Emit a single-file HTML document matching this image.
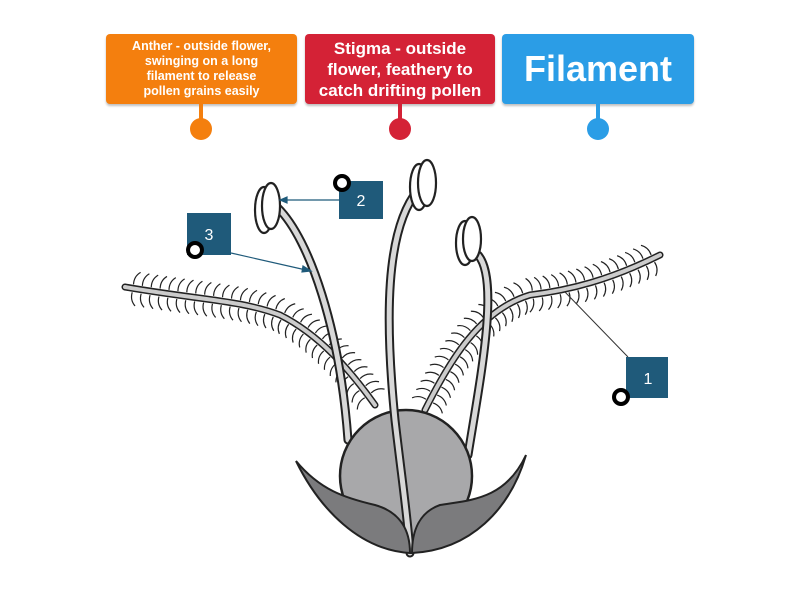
<!DOCTYPE html>
<html><head><meta charset="utf-8"><style>
body{margin:0;width:800px;height:600px;background:#fff;overflow:hidden;font-family:"Liberation Sans",sans-serif}
.btn{position:absolute;top:34px;height:70px;border-radius:4px;color:#fff;font-weight:bold;text-align:center;display:flex;align-items:center;justify-content:center;box-shadow:0 2px 2px rgba(0,0,0,.25)}
</style></head><body>
<div class="btn" style="left:106px;width:191px;background:#f47f0e;font-size:12.5px;line-height:15px">Anther - outside flower,<br>swinging on a long<br>filament to release<br>pollen grains easily</div>
<div class="btn" style="left:305px;width:190px;background:#d42236;font-size:17px;line-height:21px">Stigma - outside<br>flower, feathery to<br>catch drifting pollen</div>
<div class="btn" style="left:502px;width:192px;background:#2b9de6;font-size:36px;font-weight:bold">Filament</div>
<svg width="800" height="600" style="position:absolute;left:0;top:0">
<g stroke-width="4"><line x1="201" y1="104" x2="201" y2="122" stroke="#f47f0e"/><line x1="400" y1="104" x2="400" y2="122" stroke="#d42236"/><line x1="598" y1="104" x2="598" y2="122" stroke="#2b9de6"/></g>
<circle cx="201" cy="129" r="11" fill="#f47f0e"/><circle cx="400" cy="129" r="11" fill="#d42236"/><circle cx="598" cy="129" r="11" fill="#2b9de6"/>
<g id="hairs" stroke="#222" stroke-width="1.2" fill="none"></g>
<g fill="none" stroke-linecap="round">
<path id="fl" d="M125,287 C200,300 240,300 280,315 C320,335 350,370 375,405" stroke="#222" stroke-width="7"/>
<path d="M125,287 C200,300 240,300 280,315 C320,335 350,370 375,405" stroke="#ccc" stroke-width="4"/>
<path id="fr" d="M660,255 C610,280 570,290 530,295 C480,310 450,360 425,410" stroke="#222" stroke-width="7"/>
<path d="M660,255 C610,280 570,290 530,295 C480,310 450,360 425,410" stroke="#ccc" stroke-width="4"/>
<path d="M278,208 C310,240 340,330 348,440" stroke="#222" stroke-width="9"/>
<path d="M278,208 C310,240 340,330 348,440" stroke="#d8d8d8" stroke-width="5"/>
<path d="M478,255 C500,280 480,380 468,455" stroke="#222" stroke-width="9"/>
<path d="M478,255 C500,280 480,380 468,455" stroke="#d8d8d8" stroke-width="5"/>
</g>
<circle cx="406" cy="476" r="66" fill="#a8a8aa" stroke="#222" stroke-width="2.5"/>
<g fill="none" stroke-linecap="round">
<path d="M418,190 C385,230 385,320 395,420 C402,480 408,520 410,553" stroke="#222" stroke-width="9"/>
<path d="M418,190 C385,230 385,320 395,420 C402,480 408,520 410,553" stroke="#d8d8d8" stroke-width="5"/>
</g>
<path d="M296,461 C320,490 345,498 375,505 C400,512 410,530 410,553 C360,550 320,510 296,461Z" fill="#7b7b7d" stroke="#222" stroke-width="2"/>
<path d="M526,455 C505,500 470,500 440,505 C420,512 412,530 412,553 C470,550 510,510 526,455Z" fill="#7b7b7d" stroke="#222" stroke-width="2"/>
<g fill="#fff" stroke="#222" stroke-width="2.2">
<ellipse cx="264" cy="210" rx="9" ry="23"/><ellipse cx="271" cy="206" rx="9" ry="23"/>
<ellipse cx="419" cy="187" rx="9" ry="23"/><ellipse cx="427" cy="183" rx="9" ry="23"/>
<ellipse cx="465" cy="243" rx="9" ry="22"/><ellipse cx="472" cy="239" rx="9" ry="22"/>
</g>
<g stroke="#1f5a7a" stroke-width="1.2" fill="#1f5a7a">
<line x1="339" y1="200" x2="284" y2="200"/><path d="M280,200 l7,-3 v6z"/>
<line x1="231" y1="253" x2="306" y2="270"/><path d="M311,271 l-8,-5 l-1,6z"/>
</g>
<line x1="628" y1="357" x2="565" y2="292" stroke="#333" stroke-width="1"/>
<g fill="#1f5a7a"><rect x="339" y="181" width="44" height="38"/><rect x="187" y="213" width="44" height="42"/><rect x="626" y="357" width="42" height="41"/></g>
<g fill="#fff" font-size="16" text-anchor="middle" font-family="Liberation Sans"><text x="361" y="206">2</text><text x="209" y="240">3</text><text x="648" y="384">1</text></g>
<g fill="#fff" stroke="#000" stroke-width="4"><circle cx="342" cy="183" r="7"/><circle cx="195" cy="250" r="7"/><circle cx="621" cy="397" r="7"/></g>
</svg>
<script>
var g=document.getElementById('hairs');
['fl','fr'].forEach(function(id){var p=document.getElementById(id),L=p.getTotalLength();
for(var s=8;s<L-4;s+=9){var a=p.getPointAtLength(s),b=p.getPointAtLength(s+1);var dx=b.x-a.x,dy=b.y-a.y,n=Math.hypot(dx,dy);dx/=n;dy/=n;var nx=-dy,ny=dx;
[1,-1].forEach(function(sg){var h=document.createElementNS('http://www.w3.org/2000/svg','path');var x1=a.x+nx*sg*4,y1=a.y+ny*sg*4,x2=a.x+nx*sg*17+dx*5,y2=a.y+ny*sg*17+dy*5;
h.setAttribute('d','M'+x1+','+y1+' Q'+(a.x+nx*sg*12-dx*1)+','+(a.y+ny*sg*12-dy*1)+' '+x2+','+y2);g.appendChild(h);});}});
</script>
</body></html>
